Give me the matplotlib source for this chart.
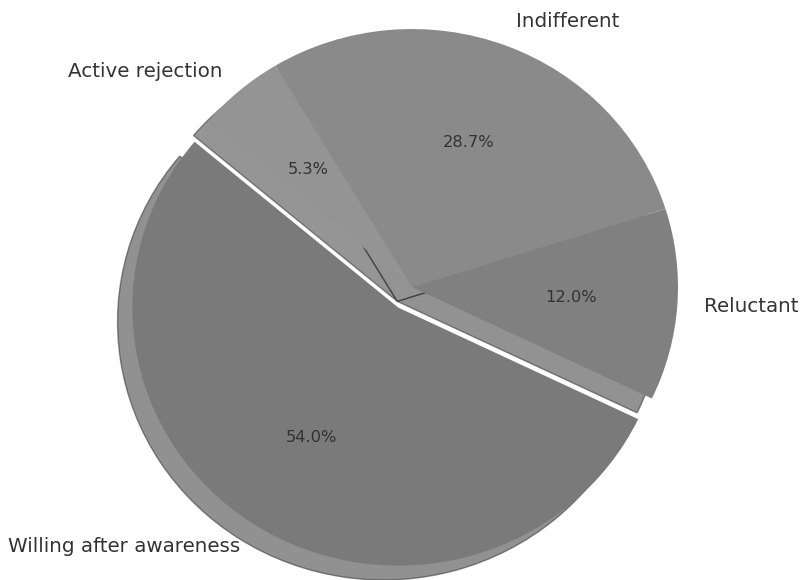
import matplotlib.pyplot as plt

labels = ['Willing after awareness', 'Reluctant', 'Indifferent', 'Active rejection']
shares = [54.0, 12.0, 28.7, 5.3]
greys = ['#7a7a7a', '#808080', '#8a8a8a', '#949494']
explode = [0.095, 0, 0, 0]

fig = plt.figure(figsize=(8.03, 5.8), dpi=100)
ax = fig.add_axes([0, 0, 1, 1])

wedges, texts, autotexts = ax.pie(shares, labels=labels, colors=greys,
                                  explode=explode, autopct='%1.1f%%',
                                  startangle=140,
                                  shadow={'ox': -0.04, 'oy': -0.04},
                                  textprops={'color': '#333333', 'fontsize': 14.3})
for t in autotexts:
    t.set_fontsize(11.7)

# picture is a little wider than tall, so no equal aspect
ax.set_aspect('auto')
ax.set_xlim(-1.549, 1.470)
ax.set_ylim(-1.1355, 1.1125)

fig.savefig('out.png', dpi=100)
